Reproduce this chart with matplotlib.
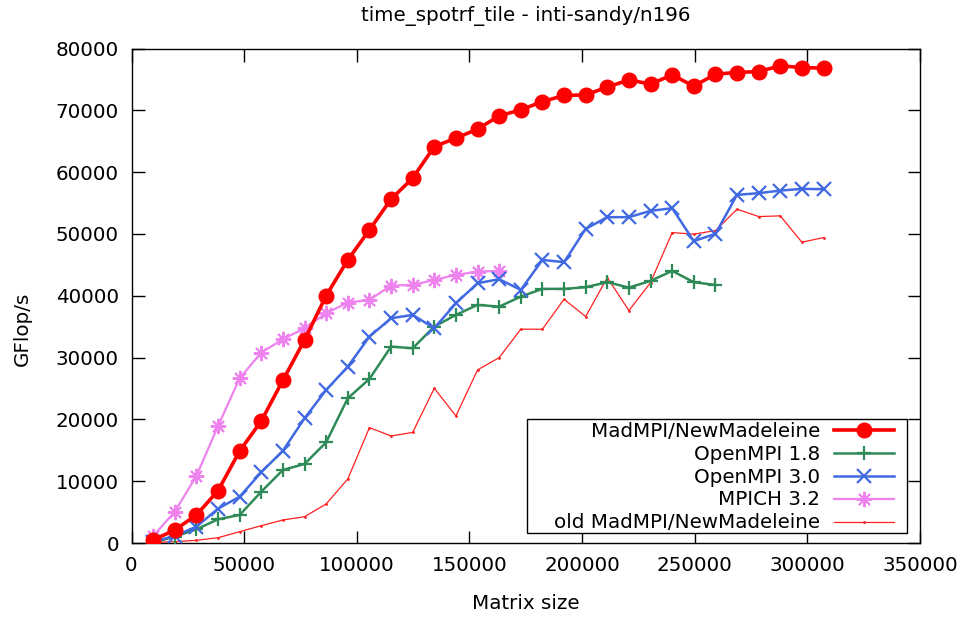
import matplotlib
matplotlib.use("Agg")
import matplotlib.pyplot as plt
from matplotlib.patches import Rectangle

# Matrix sizes
sizes = [9600, 19200, 28800, 38400, 48000, 57600, 67200, 76800, 86400, 96000,
         105600, 115200, 124800, 134400, 144000, 153600, 163200, 172800, 182400, 192000,
         201600, 211200, 220800, 230400, 240000, 249600, 259200, 268800, 278400, 288000,
         297600, 307200]

madmpi = [500, 2120, 4550, 8480, 14900, 19760, 26340, 32860, 40030, 45800,
          50660, 55630, 59030, 64150, 65500, 66960, 69110, 70080, 71420, 72400,
          72500, 73750, 74930, 74240, 75740, 73900, 75860, 76120, 76280, 77200,
          76920, 76830]

openmpi18 = [100, 1040, 2230, 3850, 4550, 8320, 11830, 12800, 16310, 23430,
             26550, 31780, 31520, 35020, 36910, 38530, 38250, 39870, 41120, 41120,
             41390, 42200, 41330, 42410, 44030, 42200, 41760]

openmpi30 = [230, 1150, 2650, 5570, 7510, 11460, 14950, 20190, 24770, 28540,
             33400, 36370, 36910, 34760, 38800, 42040, 42690, 40950, 45810, 45440,
             50830, 52720, 52720, 53740, 54170, 48850, 50020, 56330, 56600, 57020,
             57300, 57250]

mpich32 = [1150, 5080, 10860, 18950, 26670, 30810, 32980, 34760, 37180, 38900,
           39340, 41650, 41760, 42570, 43380, 43920, 44030]

old_madmpi = [130, 230, 450, 870, 1850, 2820, 3740, 4270, 6330, 10370,
              18680, 17330, 17900, 25050, 20570, 28010, 30000, 34600, 34600, 39450,
              36640, 42950, 37610, 42140, 50230, 49970, 50550, 54010, 52820, 52930,
              48670, 49420]

xticks = [0, 50000, 100000, 150000, 200000, 250000, 300000, 350000]
yticks = [0, 10000, 20000, 30000, 40000, 50000, 60000, 70000, 80000]

FS = 14.3

plt.rcParams['font.family'] = ['DejaVu Sans']
fig = plt.figure(figsize=(9.63, 6.18), dpi=100)
ax = fig.add_axes([0.1366, 0.1212, 0.8187, 0.8003])

ax.plot(sizes, madmpi, color='#ff0000', lw=2.6, marker='o', ms=10.5,
        label='MadMPI/NewMadeleine', zorder=5)
ax.plot(sizes[:len(openmpi18)], openmpi18, color='#2e8b57', lw=1.8, marker='+',
        ms=10, mew=1.6, label='OpenMPI 1.8', zorder=4)
ax.plot(sizes, openmpi30, color='#4169e1', lw=1.8, marker='x', ms=10, mew=1.6,
        label='OpenMPI 3.0', zorder=4)
ax.plot(sizes[:len(mpich32)], mpich32, color='#ee82ee', lw=1.6, marker=(8, 2, 0),
        ms=11, mew=1.4, label='MPICH 3.2', zorder=3)
ax.plot(sizes, old_madmpi, color='#ff2020', lw=0.9, marker='o', ms=1.0,
        label='old MadMPI/NewMadeleine', zorder=2)

ax.set_xlim(0, 350000)
ax.set_ylim(0, 80000)
ax.set_xticks(xticks)
ax.set_yticks(yticks)
ax.set_xticklabels([str(v) for v in xticks])
ax.set_yticklabels([str(v) for v in yticks])
ax.tick_params(direction='in', length=9, width=1, top=True, right=True,
               labelsize=FS, pad=9, colors='black')
for s in ax.spines.values():
    s.set_linewidth(1.0)
    s.set_color('black')

ax.set_title('time_spotrf_tile - inti-sandy/n196', fontsize=FS, pad=20)
ax.set_xlabel('Matrix size', fontsize=FS)
ax.xaxis.set_label_coords(0.5, -0.103)
ax.set_ylabel('GFlop/s', fontsize=FS)
ax.yaxis.set_label_coords(-0.127, 0.434)

# legend frame (gnuplot-style key box)
frame = Rectangle((0.5016, 0.0204), 0.9835 - 0.5016, 0.2509 - 0.0204,
                  transform=ax.transAxes, facecolor='white', edgecolor='black',
                  lw=1.0, zorder=6)
ax.add_patch(frame)

leg = ax.legend(loc='lower right', bbox_to_anchor=(0.967, 0.0215), markerfirst=False,
                fontsize=FS, frameon=False, borderpad=0.0, labelspacing=0.2,
                handlelength=3.0, handletextpad=0.7, borderaxespad=0.0)
leg.set_zorder(7)

fig.savefig('out.png', dpi=100)
